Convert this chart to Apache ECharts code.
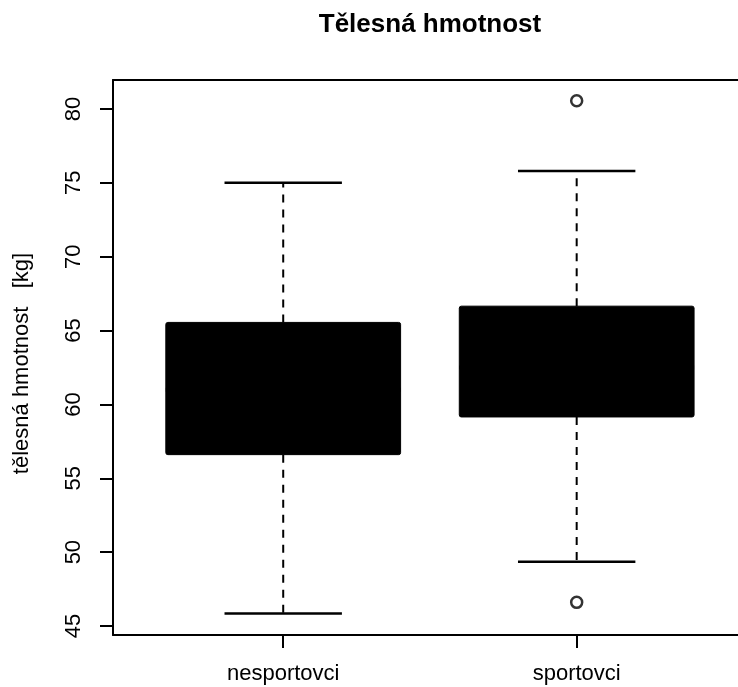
<!DOCTYPE html>
<html><head><meta charset="utf-8">
<script src="https://cdn.jsdelivr.net/npm/echarts@6/dist/echarts.min.js"></script>
<style>html,body{margin:0;padding:0;background:#fff}#c{width:738px;height:687px}</style>
</head><body><div id="c"></div>
<script>
// ---- data ----
const categories = ['nesportovci', 'sportovci'];
const whiskerLow = [45.85, 49.35];
const q1 = [56.6, 59.15];
const median = [61.0, 62.5];
const q3 = [65.55, 66.65];
const whiskerHigh = [75.0, 75.8];
const outlierGroup = [2, 2];
const outlierValue = [80.55, 46.6];
const yTicks = [45, 50, 55, 60, 65, 70, 75, 80];
const xTicks = [1, 2];

const FONT = 'Liberation Sans, Arial, Helvetica, sans-serif';

const boxData = categories.map((c, i) => [i + 1, whiskerLow[i], q1[i], median[i], q3[i], whiskerHigh[i]]);
const outlierData = outlierGroup.map((g, i) => [g, outlierValue[i]]);

function renderItem(params, api) {
  const x = api.value(0);
  const lo = api.value(1), a = api.value(2), m = api.value(3), b = api.value(4), hi = api.value(5);
  const half = 0.4, sHalf = 0.2;
  const tl = api.coord([x - half, b]);
  const br = api.coord([x + half, a]);
  const cLo = api.coord([x, lo]), cA = api.coord([x, a]), cB = api.coord([x, b]), cHi = api.coord([x, hi]);
  const sL1 = api.coord([x - sHalf, lo]), sR1 = api.coord([x + sHalf, lo]);
  const sL2 = api.coord([x - sHalf, hi]), sR2 = api.coord([x + sHalf, hi]);
  const mL = api.coord([x - half, m]), mR = api.coord([x + half, m]);
  const dash = { stroke: '#000', lineWidth: 2, lineDash: [8, 7] };
  const solid = { stroke: '#000', lineWidth: 2.5 };
  return {
    type: 'group',
    children: [
      { type: 'line', shape: { x1: cB[0], y1: cB[1], x2: cHi[0], y2: cHi[1] }, style: dash },
      { type: 'line', shape: { x1: cA[0], y1: cA[1], x2: cLo[0], y2: cLo[1] }, style: dash },
      { type: 'line', shape: { x1: sL1[0], y1: sL1[1], x2: sR1[0], y2: sR1[1] }, style: solid },
      { type: 'line', shape: { x1: sL2[0], y1: sL2[1], x2: sR2[0], y2: sR2[1] }, style: solid },
      { type: 'rect', shape: { x: tl[0], y: tl[1], width: br[0] - tl[0], height: br[1] - tl[1], r: 2 },
        style: { fill: '#000', stroke: '#000', lineWidth: 1 } },
      { type: 'line', shape: { x1: mL[0], y1: mL[1], x2: mR[0], y2: mR[1] }, style: { stroke: '#000', lineWidth: 4 } }
    ]
  };
}

const chart = echarts.init(document.getElementById('c'), null, { renderer: 'canvas' });
chart.setOption({
  animation: false,
  backgroundColor: '#fff',
  textStyle: { fontFamily: FONT },
  graphic: [{
    type: 'text', x: 430, y: 25,
    style: { text: 'Tělesná hmotnost', font: 'bold 26px ' + FONT, fill: '#000', textAlign: 'center', textVerticalAlign: 'middle' }
  }],
  grid: { left: 113, top: 80, right: 0, height: 555, show: false },
  xAxis: [{
    type: 'value', min: 0.42, max: 2.5497,
    splitLine: { show: false },
    axisLine: { show: true, onZero: false, lineStyle: { color: '#000', width: 2 } },
    axisTick: { show: true, customValues: xTicks, length: 13, lineStyle: { color: '#000', width: 2 } },
    axisLabel: {
      customValues: xTicks, margin: 28, color: '#000', fontSize: 22, fontFamily: FONT,
      formatter: v => categories[Math.round(v) - 1] || ''
    }
  }, {
    type: 'value', position: 'top', min: 0.42, max: 2.5497,
    splitLine: { show: false },
    axisLine: { show: true, onZero: false, lineStyle: { color: '#000', width: 2 } },
    axisTick: { show: false }, axisLabel: { show: false }
  }],
  yAxis: {
    type: 'value', min: 44.39, max: 81.96,
    name: 'tělesná hmotnost   [kg]', nameLocation: 'middle', nameRotate: 90, nameGap: 80,
    nameTextStyle: { color: '#000', fontSize: 22, fontFamily: FONT, padding: [0, 12, 0, 0] },
    splitLine: { show: false },
    axisLine: { show: true, onZero: false, lineStyle: { color: '#000', width: 2 } },
    axisTick: { show: true, customValues: yTicks, length: 13, lineStyle: { color: '#000', width: 2 } },
    axisLabel: { customValues: yTicks, rotate: 90, margin: 28, color: '#000', fontSize: 22, fontFamily: FONT }
  },
  series: [
    { type: 'custom', renderItem: renderItem, data: boxData, encode: { x: 0, y: [1, 2, 3, 4, 5] }, clip: false },
    { type: 'scatter', data: outlierData, symbol: 'circle', symbolSize: 11,
      itemStyle: { color: '#fff', borderColor: '#000', borderWidth: 2.5 } }
  ]
});
</script>
</body></html>
